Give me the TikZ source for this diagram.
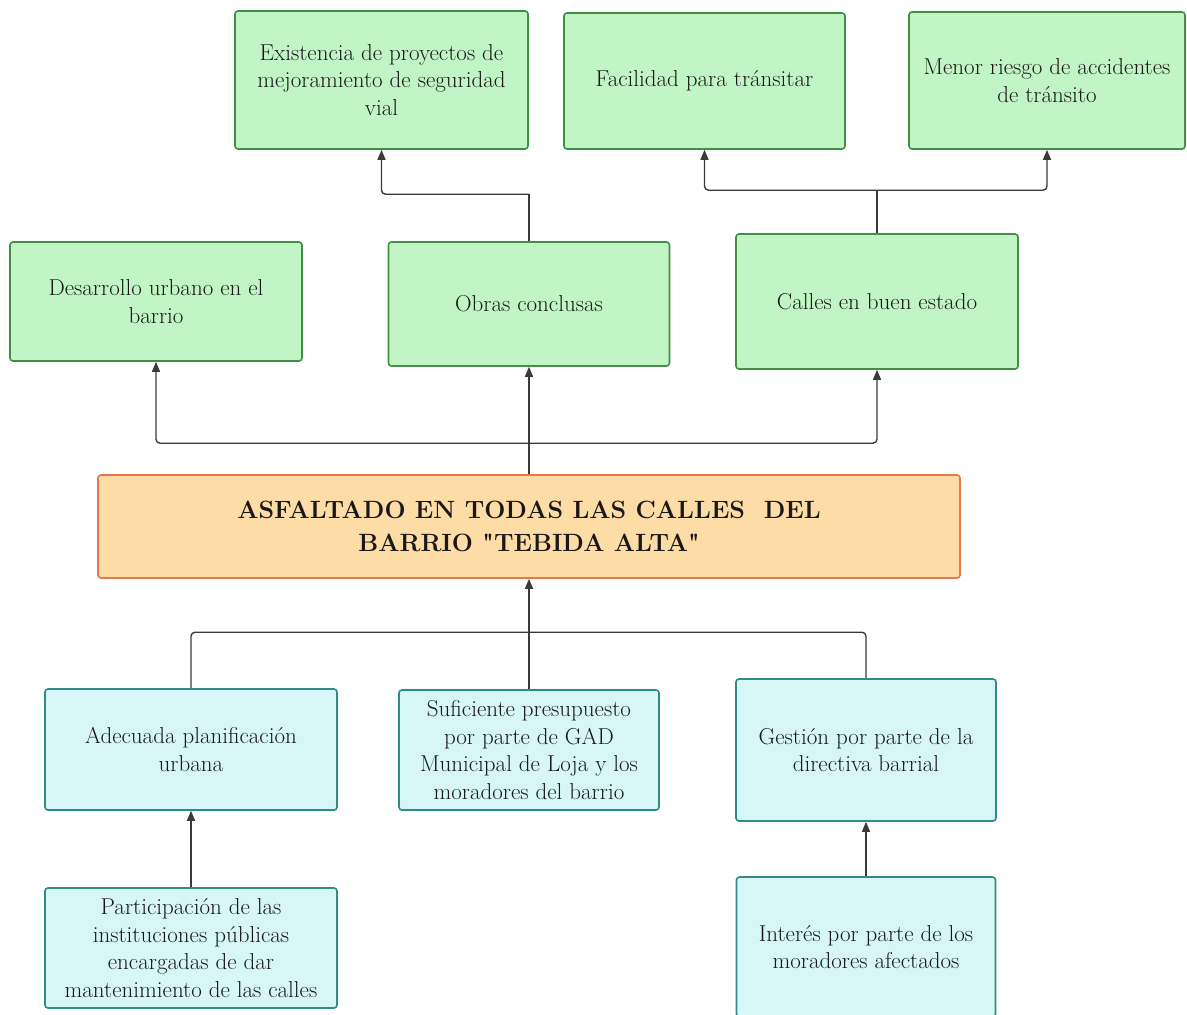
\documentclass[tikz,border=0pt]{standalone}
\usetikzlibrary{arrows.meta,positioning}
\definecolor{effectfill}{HTML}{C2F5C6}
\definecolor{effectline}{HTML}{3F8F45}
\definecolor{causefill}{HTML}{D6F7F5}
\definecolor{causeline}{HTML}{2F8C82}
\definecolor{corefill}{HTML}{FDDCA6}
\definecolor{coreline}{HTML}{E27A4E}
\definecolor{linkgray}{HTML}{3A3A3A}

\tikzset{
  box/.style={draw, line width=1.6pt, rounded corners=3pt, align=center, inner sep=0pt,
    text=black!90, font=\fontsize{23}{27.5}\selectfont},
  effect/.style={box, fill=effectfill, draw=effectline},
  cause/.style={box, fill=causefill, draw=causeline},
  core/.style={box, fill=corefill, draw=coreline, font=\fontsize{25}{33}\selectfont\bfseries},
  wire/.style={draw=linkgray, line width=1.4pt, rounded corners=4pt},
  link/.style={wire, -{Triangle[length=10pt,width=8pt]}}
}

\begin{document}
\begin{tikzpicture}[x=1pt, y=-1pt]
    \useasboundingbox (0,0) rectangle (1187,1015);

    % Effects (top row)
    \node[effect, minimum width=293pt, minimum height=138pt] (exist) at (381.5,80)
        {Existencia de proyectos de\\mejoramiento de seguridad\\vial};
    \node[effect, minimum width=281pt, minimum height=136pt] (facil) at (704.5,81)
        {Facilidad para tránsitar};
    \node[effect, minimum width=276pt, minimum height=137pt] (menor) at (1047,80.5)
        {Menor riesgo de accidentes\\de tránsito};

    % Effects (second row)
    \node[effect, minimum width=292pt, minimum height=119pt] (desa) at (156,301.5)
        {Desarrollo urbano en el\\barrio};
    \node[effect, minimum width=281pt, minimum height=124pt] (obras) at (529,304)
        {Obras conclusas};
    \node[effect, minimum width=282pt, minimum height=135pt] (calles) at (877,301.5)
        {Calles en buen estado};

    % Central problem
    \node[core, minimum width=862pt, minimum height=103pt] (asfalto) at (529,526.5)
        {ASFALTADO EN TODAS LAS CALLES\ \ DEL\\BARRIO \textquotedbl TEBIDA ALTA\textquotedbl};

    % Causes
    \node[cause, minimum width=292pt, minimum height=121pt] (planif) at (191,749.5)
        {Adecuada planificación\\urbana};
    \node[cause, minimum width=260pt, minimum height=120pt] (presup) at (529,750)
        {Suficiente presupuesto\\por parte de GAD\\Municipal de Loja y los\\moradores del barrio};
    \node[cause, minimum width=260pt, minimum height=142pt] (gestion) at (866,750)
        {Gestión por parte de la\\directiva barrial};
    \node[cause, minimum width=292pt, minimum height=120pt] (partic) at (191,948)
        {Participación de las\\instituciones públicas\\encargadas de dar\\mantenimiento de las calles};
    \node[cause, minimum width=259pt, minimum height=140pt] (interes) at (866,947)
        {Interés por parte de los\\moradores afectados};

    % Connectors up from the central problem
    \draw[wire] (asfalto.north) -- ++(0,-31) coordinate (upbus);
    \draw[link] (upbus) -| (desa.south);
    \draw[link] (upbus) -- (obras.south);
    \draw[link] (upbus) -| (calles.south);
    \draw[wire] (obras.north) -- ++(0,-47) coordinate (obrasbus);
    \draw[link] (obrasbus) -| (exist.south);
    \draw[wire] (calles.north) -- ++(0,-43) coordinate (callesbus);
    \draw[link] (callesbus) -| (facil.south);
    \draw[link] (callesbus) -| (menor.south);

    % Connectors from the causes
    \draw[link] (presup.north) -- ++(0,-57) coordinate (downbus) -- (asfalto.south);
    \draw[wire] (planif.north) |- (downbus);
    \draw[wire] (gestion.north) |- (downbus);
    \draw[link] (partic.north) -- (planif.south);
    \draw[link] (interes.north) -- (gestion.south);
\end{tikzpicture}
\end{document}
